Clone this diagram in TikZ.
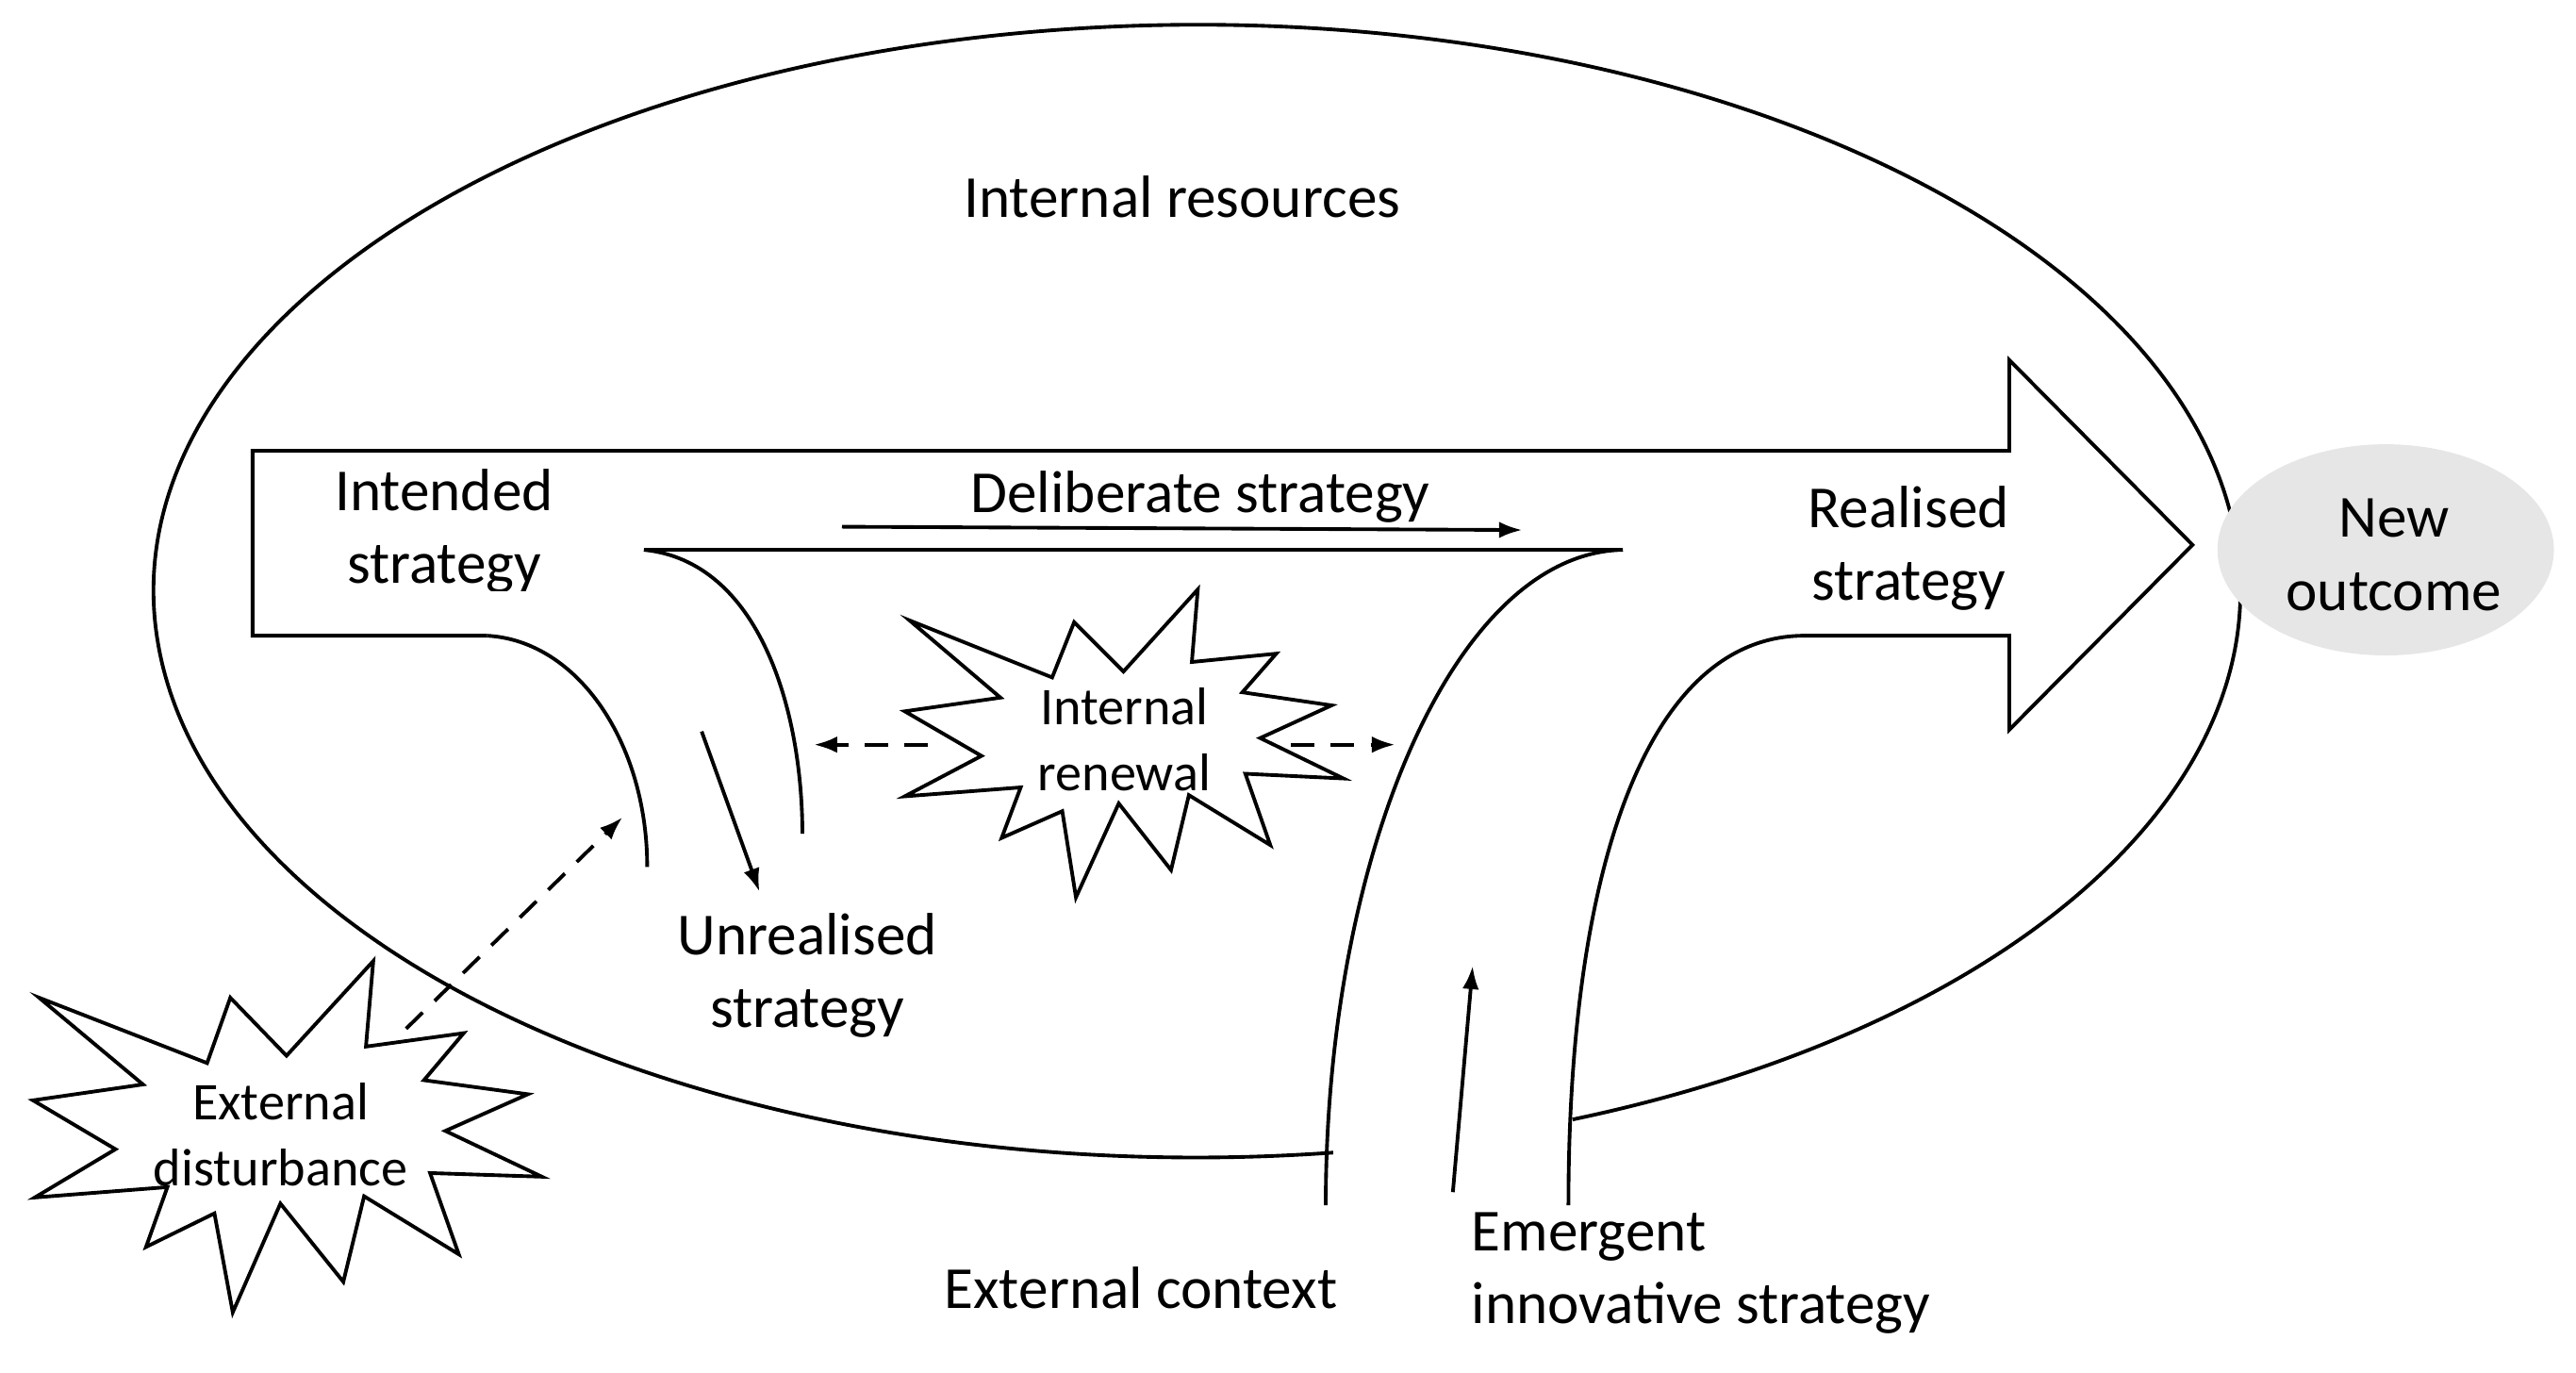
\documentclass[tikz,border=0pt]{standalone}
\usepackage{fontspec}
\setmainfont{Carlito}
\usetikzlibrary{arrows.meta,shapes.geometric}
\begin{document}
\begin{tikzpicture}[x=0.01751cm,y=-0.01751cm,
  ln/.style={line width=1.1pt},
  tip/.style={-{Latex[length=7pt,width=5pt]}},
  lbl/.style={font=\fontsize{18}{22}\selectfont, align=center, inner sep=0pt},
  slbl/.style={font=\fontsize{16}{20}\selectfont, align=center, inner sep=0pt},
  dsh/.style={ln, dash pattern=on 7pt off 5pt}]
\useasboundingbox (0,0) rectangle (1560.3,831.5);
% big ellipse with gap
\draw[ln] (725,358) ++(82.5:632 and 343) arc[start angle=82.5, end angle=428.9, x radius=632, y radius=343];
% big arrow outline
\coordinate (a0) at (295,385); \coordinate (a1) at (1093,385);
\draw[ln] (a0) -- (153,385) -- (153,273) -- (1217,273) -- (1217,218) -- (1328,330) -- (1217,442) -- (1217,385) -- (a1);
% curves
\coordinate (i0) at (390,333); \coordinate (i1) at (983,333);
\draw[ln] (i0) -- (i1);
\draw[ln] (a0) .. controls (350,388) and (392,450) .. (392,525);
\draw[ln] (i0) .. controls (460,340) and (486,430) .. (486,505);
\draw[ln] (i1) .. controls (880,335) and (803,520) .. (803,730);
\draw[ln] (a1) .. controls (1000,385) and (950,520) .. (950,730);
% new outcome
\node[ellipse, fill={rgb,255:red,230;green,230;blue,230}, minimum width=3.57cm, minimum height=2.24cm, inner sep=0pt] (no) at (1445,333) {};
\node[lbl] (not) at (1450,336) {New\\outcome};
% stars
\begin{scope}[shift={(487.9,259.8)}, scale=0.36]
\draw[ln, fill=white] (175,322)--(415,418)--(452,325)--(535,408)--(660,270)--(650,392)--(792,378)--(735,443)--(885,465)--(765,520)--(905,588)--(740,580)--(782,700)--(645,616)--(615,742)--(527,630)--(455,788)--(432,643)--(330,688)--(362,603)--(167,618)--(296,550)--(167,475)--(328,452)--cycle;
\end{scope}
\begin{scope}[shift={(-0.35,243.5)}, scale=0.37]
\draw[ln, fill=white] (65,975)--(340,1082)--(378,975)--(470,1070)--(612,915)--(600,1055)--(760,1033)--(695,1110)--(865,1133)--(730,1193)--(888,1268)--(705,1262)--(752,1395)--(597,1300)--(563,1440)--(460,1312)--(382,1490)--(352,1328)--(240,1383)--(275,1285)--(58,1302)--(190,1223)--(55,1143)--(235,1117)--cycle;
\end{scope}
% texts
\node[lbl] (ir) at (716,119) {Internal resources};
\begin{scope}
\clip (150,270) rectangle (420,358);
\node[lbl] (is) at (269,322) {Intended\\strategy};
\end{scope}
\node[lbl] (ds) at (727,301) {Deliberate strategy};
\node[lbl] (rs) at (1156,332) {Realised\\strategy};
\node[lbl] (us) at (489,591) {Unrealised\\strategy};
\node[lbl] (ec) at (691,780) {External context};
\node[lbl, align=left, anchor=west] (es) at (891,771) {Emergent\\innovative strategy};
\node[slbl] (irn) at (681,448) {Internal\\renewal};
\node[slbl] (ed) at (170,687) {External\\disturbance};
% arrows
\coordinate (d0) at (510,319); \coordinate (d1) at (922,321);
\draw[ln,tip] (d0) -- (d1);
\coordinate (u0) at (425,443); \coordinate (u1) at (460,540);
\draw[ln,tip] (u0) -- (u1);
\coordinate (e0) at (880,722); \coordinate (e1) at (892,585);
\draw[ln,tip] (e0) -- (e1);
\coordinate (l0) at (562,451); \coordinate (l1) at (493,451);
\draw[dsh,tip] (l0) -- (l1);
\coordinate (r0) at (782,451); \coordinate (r1) at (845,451);
\draw[dsh,tip] (r0) -- (r1);
\coordinate (x0) at (246,623); \coordinate (x1) at (377,495);
\draw[dsh,tip] (x0) -- (x1);
\end{tikzpicture}
\end{document}
